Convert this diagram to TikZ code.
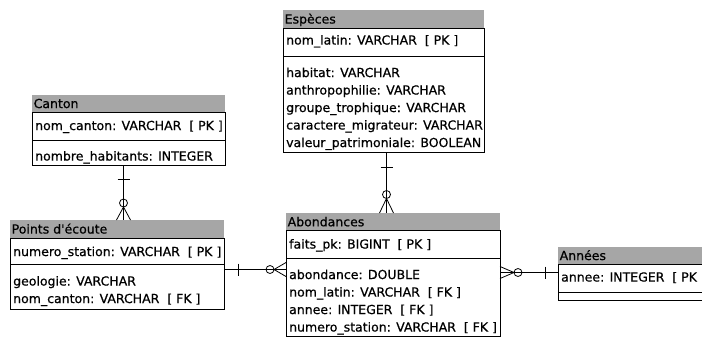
\documentclass[tikz,border=0pt]{standalone}
\usepackage{fontspec}
\setmainfont{DejaVu Sans}[FakeBold=0.6]
\newcommand\erfont{\fontsize{12.5}{15}\selectfont}
\definecolor{hdrgray}{RGB}{166,166,166}
\tikzset{
  hdr/.style={fill=hdrgray, draw=none, anchor=north west, inner sep=0pt, outer sep=0pt},
  tbody/.style={draw=black, line width=0.8pt, anchor=north west, inner sep=0pt, outer sep=0pt},
  ttitle/.style={anchor=west, inner sep=0pt, text height=9.1pt, text depth=0pt, font=\erfont},
  field/.style={anchor=west, inner sep=0pt, text height=9.1pt, text depth=0pt, font=\erfont},
  sepline/.style={draw=black, line width=0.8pt},
  link/.style={draw=black, line width=0.8pt},
}
\begin{document}
\begin{tikzpicture}[x=1pt, y=-1pt]
\useasboundingbox (0,0) rectangle (702,338);
\fill[white] (0,0) rectangle (702,338);
\clip (0,0) rectangle (702,338);

% Canton
\node[hdr, minimum width=193pt, minimum height=18pt] (cantonh) at (32,94.5) {};
\node[tbody, minimum width=193pt, minimum height=52.5pt] (canton) at (32,112.5) {};
\node[ttitle] (cantont) at ([xshift=1.5pt]cantonh.west) {Canton};
\draw[sepline] (32,140.5) -- (225,140.5);
\node[field] (cantonf1) at (35,125.5) {nom\_canton: VARCHAR\ \ [ PK ]};
\node[field] (cantonf2) at (35,156) {nombre\_habitants: INTEGER};

% Points d'écoute
\node[hdr, minimum width=214pt, minimum height=18pt] (ptsh) at (10,220) {};
\node[tbody, minimum width=214pt, minimum height=71pt] (pts) at (10,238) {};
\node[ttitle] (ptst) at ([xshift=1.5pt]ptsh.west) {Points d\textquotesingle écoute};
\draw[sepline] (10,264.5) -- (224,264.5);
\node[field] (ptsf1) at (13,251.5) {numero\_station: VARCHAR\ \ [ PK ]};
\node[field] (ptsf2) at (13,281) {geologie: VARCHAR};
\node[field] (ptsf3) at (13,298.5) {nom\_canton: VARCHAR\ \ [ FK ]};

% Espèces
\node[hdr, minimum width=201pt, minimum height=18pt] (esph) at (283,10) {};
\node[tbody, minimum width=201pt, minimum height=124.5pt] (esp) at (283,28) {};
\node[ttitle] (espt) at ([xshift=1.5pt]esph.west) {Espèces};
\draw[sepline] (283,56) -- (484,56);
\node[field] (espf1) at (286,40) {nom\_latin: VARCHAR\ \ [ PK ]};
\node[field] (espf2) at (286,72.5) {habitat: VARCHAR};
\node[field] (espf3) at (286,90) {anthropophilie: VARCHAR};
\node[field] (espf4) at (286,107.5) {groupe\_trophique: VARCHAR};
\node[field] (espf5) at (286,125) {caractere\_migrateur: VARCHAR};
\node[field] (espf6) at (286,142.5) {valeur\_patrimoniale: BOOLEAN};

% Abondances
\node[hdr, minimum width=214pt, minimum height=17.5pt] (abh) at (286,213) {};
\node[tbody, minimum width=214pt, minimum height=105.5pt] (ab) at (286,230.5) {};
\node[ttitle] (abt) at ([xshift=1.5pt]abh.west) {Abondances};
\draw[sepline] (286,258.5) -- (500,258.5);
\node[field] (abf1) at (289,244) {faits\_pk: BIGINT\ \ [ PK ]};
\node[field] (abf2) at (289,274.5) {abondance: DOUBLE};
\node[field] (abf3) at (289,292) {nom\_latin: VARCHAR\ \ [ FK ]};
\node[field] (abf4) at (289,309.5) {annee: INTEGER\ \ [ FK ]};
\node[field] (abf5) at (289,327) {numero\_station: VARCHAR\ \ [ FK ]};

% Années
\node[hdr, minimum width=202pt, minimum height=17pt] (anh) at (558,247) {};
\node[tbody, minimum width=202pt, minimum height=36pt] (an) at (558,264) {};
\node[ttitle] (ant) at ([xshift=1.5pt]anh.west) {Années};
\draw[sepline] (558,292) -- (760,292);
\node[field] (anf1) at (561,277) {annee: INTEGER\ \ [ PK ]};

% connector guides
\coordinate (g1) at (123.5,0);
\coordinate (g2) at (386.5,0);
\coordinate (g3) at (0,269.5);
\coordinate (g4) at (0,272.5);

% Canton 1 -- 0..n Points d'écoute
\draw[link] (canton.south -| g1) coordinate (a1) -- (ptsh.north -| g1) coordinate (b1);
\draw[link] ([shift={(-6,14)}]a1) -- ([shift={(6,14)}]a1);
\draw[link] ([shift={(0,-17)}]b1) circle[radius=4];
\draw[link] ([shift={(-7,0)}]b1) -- ([shift={(0,-13)}]b1) -- ([shift={(7,0)}]b1);

% Espèces 1 -- 0..n Abondances
\draw[link] (esp.south -| g2) coordinate (a2) -- (abh.north -| g2) coordinate (b2);
\draw[link] ([shift={(-6,14.5)}]a2) -- ([shift={(6,14.5)}]a2);
\draw[link] ([shift={(0,-18.5)}]b2) circle[radius=4];
\draw[link] ([shift={(-7,0)}]b2) -- ([shift={(0,-14.5)}]b2) -- ([shift={(7,0)}]b2);

% Points d'écoute 1 -- 0..n Abondances
\draw[link] (pts.east |- g3) coordinate (a3) -- (ab.west |- g3) coordinate (b3);
\draw[link] ([shift={(14,-6)}]a3) -- ([shift={(14,6)}]a3);
\draw[link] ([shift={(-16,0)}]b3) circle[radius=4];
\draw[link] ([shift={(0,-7)}]b3) -- ([shift={(-12,0)}]b3) -- ([shift={(0,7)}]b3);

% Abondances 0..n -- 1 Années
\draw[link] (ab.east |- g4) coordinate (a4) -- (an.west |- g4) coordinate (b4);
\draw[link] ([shift={(0,-6)}]a4) -- ([shift={(14,0)}]a4) -- ([shift={(0,6)}]a4);
\draw[link] ([shift={(18,0)}]a4) circle[radius=4];
\draw[link] ([shift={(-13,-6)}]b4) -- ([shift={(-13,6)}]b4);
\end{tikzpicture}
\end{document}
